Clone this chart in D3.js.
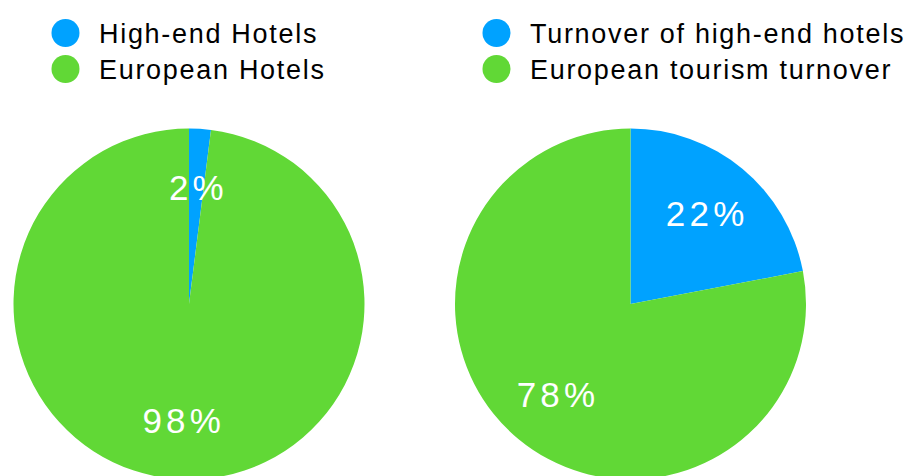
<!DOCTYPE html>
<html>
<head>
<meta charset="utf-8">
<script src="https://cdn.jsdelivr.net/npm/d3@7"></script>
<style>
  html, body { margin: 0; padding: 0; background: #fff; }
  svg { display: block; }
</style>
</head>
<body>
<svg id="chart" width="923" height="476"></svg>
<script>
// Share of high-end hotels among European hotels
const hotelCategories = ["High-end Hotels", "European Hotels"];
const hotelValues = [2, 98];

// Share of high-end hotel turnover in European tourism turnover
const turnoverCategories = ["Turnover of high-end hotels", "European tourism turnover"];
const turnoverValues = [22, 78];

const sliceColors = ["#00a2ff", "#61d836"];

const svg = d3.select("#chart");
const radius = 175.5;
const fontFamily = "'Helvetica Neue', Helvetica, 'Liberation Sans', Arial, sans-serif";

const color = d3.scaleOrdinal().domain([0, 1]).range(sliceColors);
const pie = d3.pie().sort(null).value(d => d.value);
const arc = d3.arc().innerRadius(0).outerRadius(radius);
const labelArc = d3.arc().innerRadius(radius * 2 / 3).outerRadius(radius * 2 / 3);

function drawPanel(cx, legendX, categories, values) {
  const data = categories.map((c, i) => ({ name: c, value: values[i], idx: i }));
  const total = d3.sum(values);

  // legend
  const legend = svg.append("g").attr("transform", `translate(${legendX},0)`);
  const ly = d3.scalePoint().domain(categories).range([33, 69]);
  const items = legend.selectAll("g.item").data(data).join("g")
    .attr("class", "item")
    .attr("transform", d => `translate(0,${ly(d.name)})`);
  items.append("circle").attr("r", 14).attr("fill", d => color(d.idx));
  items.append("text")
    .attr("x", 33.5)
    .attr("y", 9.5)
    .attr("font-family", fontFamily)
    .attr("font-size", 27)
    .attr("letter-spacing", 1.7)
    .attr("fill", "#000")
    .text(d => d.name);

  // pie
  const g = svg.append("g").attr("transform", `translate(${cx},304)`);
  const arcs = pie(data);
  g.selectAll("path").data(arcs).join("path")
    .attr("d", arc)
    .attr("fill", d => color(d.data.idx));
  g.selectAll("text").data(arcs).join("text")
    .attr("transform", d => `translate(${labelArc.centroid(d)})`)
    .attr("text-anchor", "middle")
    .attr("dy", "0.36em")
    .attr("dx", 2.1)
    .attr("font-family", fontFamily)
    .attr("font-size", 35)
    .attr("letter-spacing", 4.2)
    .attr("fill", "#fff")
    .text(d => Math.round(d.data.value / total * 100) + "%");
}

drawPanel(189, 65.5, hotelCategories, hotelValues);
drawPanel(630.5, 496.5, turnoverCategories, turnoverValues);
</script>
</body>
</html>
